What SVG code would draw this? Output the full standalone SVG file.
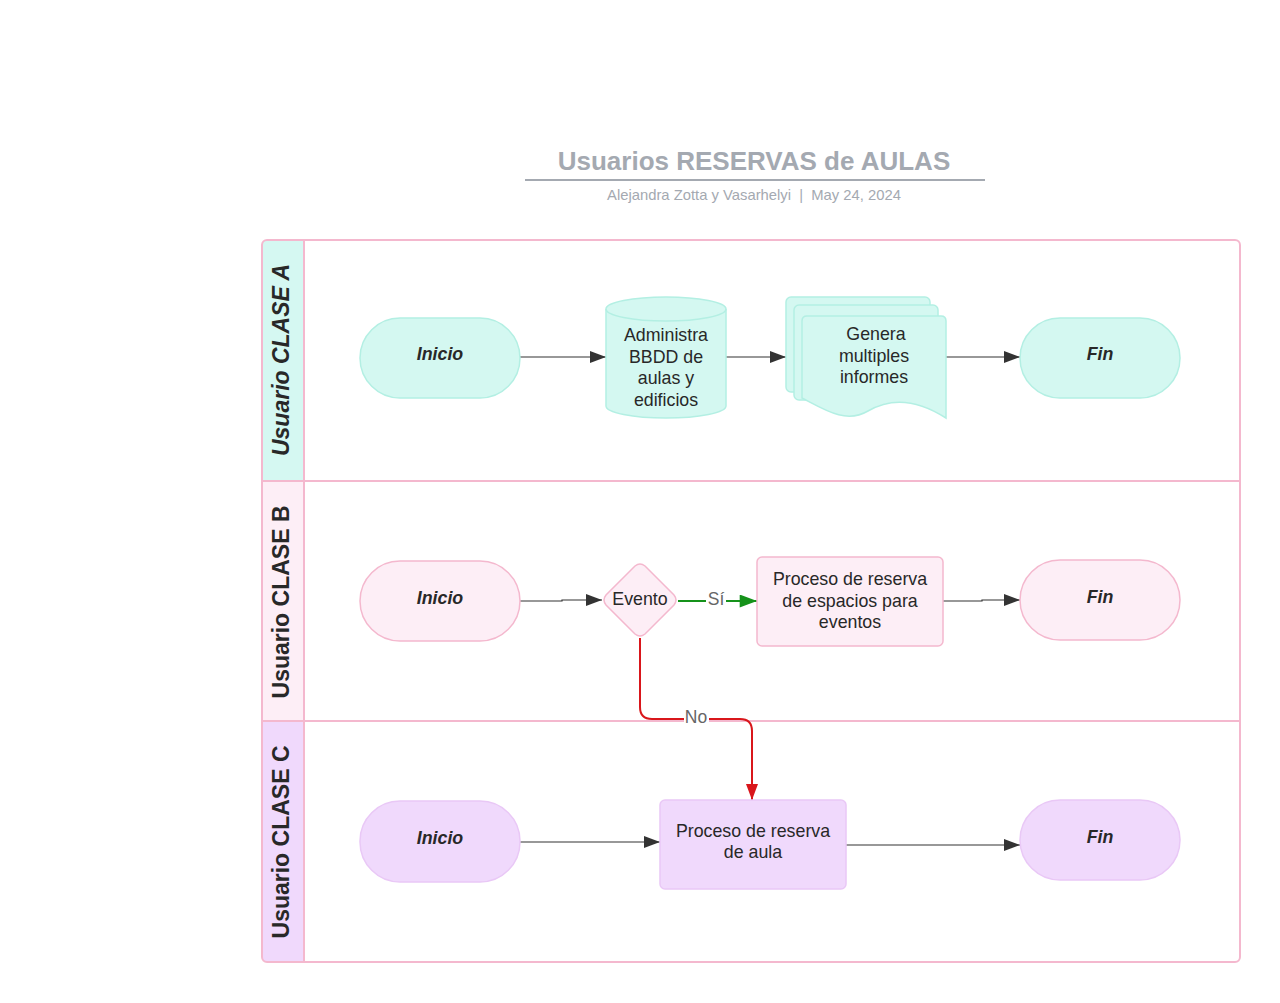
<svg xmlns="http://www.w3.org/2000/svg" width="1280" height="1003" viewBox="0 0 1280 1003">
<style>
.t{font-family:"Liberation Sans",Arial,sans-serif;fill:#282828;text-anchor:middle}
.n{font-size:17.8px}
.term{font-size:17.8px;font-weight:bold;font-style:italic}
.lane{font-size:23px;font-weight:bold}
.line{fill:none;stroke:#333;stroke-width:1.2}
.mint{fill:#D4F8F1;stroke:#B3EFE3;stroke-width:1.5}
.pink{fill:#FDEEF6;stroke:#F4B8CE;stroke-width:1.5}
.lav{fill:#F0D9FC;stroke:#E9C8F6;stroke-width:1.5}
</style>
<defs>
<marker id="ah" viewBox="0 0 16 12" refX="16" refY="6" markerWidth="16" markerHeight="12" markerUnits="userSpaceOnUse" orient="auto"><path d="M0,0 L16,6 L0,12 z" fill="#333"/></marker>
<marker id="ahg" viewBox="0 0 16 12" refX="16" refY="6" markerWidth="18" markerHeight="13" markerUnits="userSpaceOnUse" orient="auto"><path d="M0,0 L16,6 L0,12 z" fill="#15921A"/></marker>
<marker id="ahr" viewBox="0 0 16 12" refX="16" refY="6" markerWidth="16" markerHeight="12" markerUnits="userSpaceOnUse" orient="auto"><path d="M0,0 L16,6 L0,12 z" fill="#D9161B"/></marker>
</defs>
<rect width="1280" height="1003" fill="#fff"/>
<g id="title">
<text x="754" y="170" class="t" style="font-size:26px;font-weight:bold;fill:#A4A9B1">Usuarios RESERVAS de AULAS</text>
<line x1="525" y1="180" x2="985" y2="180" stroke="#A4A9B1" stroke-width="2"/>
<text x="754" y="200" class="t" style="font-size:14.8px;fill:#A4A9B1;white-space:pre" xml:space="preserve">Alejandra Zotta y Vasarhelyi  |  May 24, 2024</text>
</g>
<g id="pool">
<path d="M262,481 V245 Q262,240 267,240 H304 V481 Z" fill="#D5F8F2"/>
<rect x="262" y="481" width="42" height="240" fill="#FDEEF6"/>
<path d="M262,721 V957 Q262,962 267,962 H304 V721 Z" fill="#F0D9FC"/>
<rect x="262" y="240" width="978" height="722" rx="5" fill="none" stroke="#F4B8CE" stroke-width="2"/>
<line x1="262" y1="481" x2="1240" y2="481" stroke="#F4B8CE" stroke-width="2"/>
<line x1="262" y1="721" x2="1240" y2="721" stroke="#F4B8CE" stroke-width="2"/>
<line x1="304" y1="240" x2="304" y2="962" stroke="#F4B8CE" stroke-width="2"/>
<text class="t lane" transform="translate(289,360) rotate(-90)" style="font-style:italic">Usuario CLASE A</text>
<text class="t lane" transform="translate(289,602) rotate(-90)">Usuario CLASE B</text>
<text class="t lane" transform="translate(289,842) rotate(-90)">Usuario CLASE C</text>
</g>
<g id="connectors">
<path class="line" d="M520,357 H606" marker-end="url(#ah)"/>
<path class="line" d="M726,357 H786" marker-end="url(#ah)"/>
<path class="line" d="M946,357 H1020" marker-end="url(#ah)"/>
<path class="line" d="M520,601 H562 V600 H602" marker-end="url(#ah)"/>
<path d="M678,601 H757" fill="none" stroke="#15921A" stroke-width="2.2" marker-end="url(#ahg)"/>
<rect x="706" y="590" width="20" height="18" fill="#fff"/>
<text x="716" y="605" class="t" style="font-size:17.5px;fill:#666">Sí</text>
<path class="line" d="M943,601 H982 V600 H1020" marker-end="url(#ah)"/>
<path d="M640,638 V707 Q640,719 652,719 H740 Q752,719 752,731 V800" fill="none" stroke="#D9161B" stroke-width="2" marker-end="url(#ahr)"/>
<rect x="684" y="709" width="25" height="17" fill="#fff"/>
<text x="696" y="723" class="t" style="font-size:17.5px;fill:#666">No</text>
<path class="line" d="M520,842 H660" marker-end="url(#ah)"/>
<path class="line" d="M846,845 H1020" marker-end="url(#ah)"/>
</g>
<g id="a-inicio"><rect x="360" y="318" width="160" height="80" rx="40" class="mint"/><text x="440" y="360" class="t term">Inicio</text></g>
<g id="a-bbdd">
<path d="M606,309 V406 A60,12 0 0 0 726,406 V309 A60,12 0 0 0 606,309 Z" class="mint"/>
<path d="M606,309 A60,12 0 0 0 726,309" class="mint" style="fill:none"/>
<text class="t n"><tspan x="666" y="341">Administra</tspan><tspan x="666" y="363">BBDD de</tspan><tspan x="666" y="384">aulas y</tspan><tspan x="666" y="406">edificios</tspan></text>
</g>
<g id="a-informes">
<rect x="786" y="297" width="144" height="95" rx="5" class="mint"/>
<rect x="794" y="305" width="144" height="95" rx="5" class="mint"/>
<path d="M807,316 H941 Q946,316 946,321 V418 C915,398 890,398 868,411 C846,424 825,410 802,398 V321 Q802,316 807,316 Z" class="mint"/>
<text class="t n"><tspan x="876" y="340">Genera</tspan><tspan x="874" y="362">multiples</tspan><tspan x="874" y="383">informes</tspan></text>
</g>
<g id="a-fin"><rect x="1020" y="318" width="160" height="80" rx="40" class="mint"/><text x="1100" y="360" class="t term">Fin</text></g>
<g id="b-inicio"><rect x="360" y="561" width="160" height="80" rx="40" class="pink"/><text x="440" y="604" class="t term">Inicio</text></g>
<g id="b-evento"><path d="M635,566 Q640,562 645,566 L674,595 Q678,600 674,605 L645,634 Q640,638 635,634 L606,605 Q602,600 606,595 Z" class="pink"/><text x="640" y="605" class="t n">Evento</text></g>
<g id="b-proceso"><rect x="757" y="557" width="186" height="89" rx="5" class="pink"/><text class="t n"><tspan x="850" y="585">Proceso de reserva</tspan><tspan x="850" y="607">de espacios para</tspan><tspan x="850" y="628">eventos</tspan></text></g>
<g id="b-fin"><rect x="1020" y="560" width="160" height="80" rx="40" class="pink"/><text x="1100" y="603" class="t term">Fin</text></g>
<g id="c-inicio"><rect x="360" y="801" width="160" height="81" rx="40" class="lav"/><text x="440" y="844" class="t term">Inicio</text></g>
<g id="c-proceso"><rect x="660" y="800" width="186" height="89" rx="5" class="lav"/><text class="t n"><tspan x="753" y="837">Proceso de reserva</tspan><tspan x="753" y="858">de aula</tspan></text></g>
<g id="c-fin"><rect x="1020" y="800" width="160" height="80" rx="40" class="lav"/><text x="1100" y="843" class="t term">Fin</text></g>
</svg>
